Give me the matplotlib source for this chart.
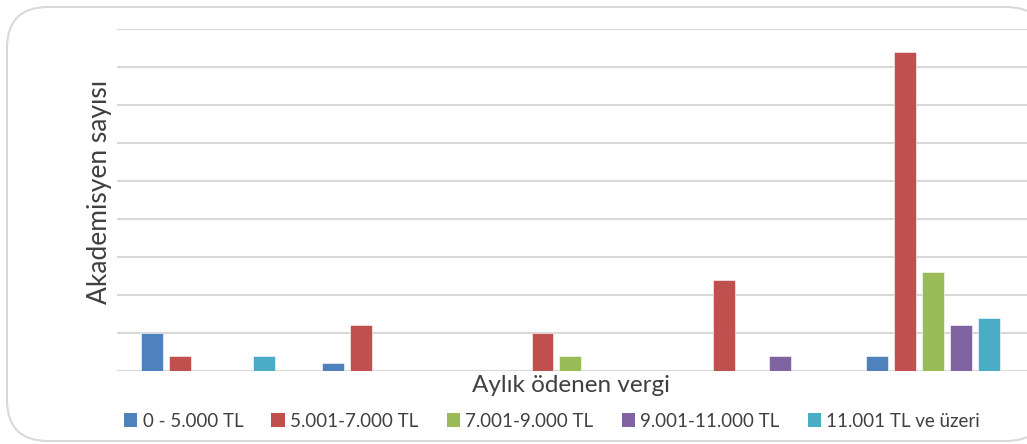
import numpy as np
import matplotlib.pyplot as plt
from matplotlib.patches import FancyBboxPatch, Patch

plt.rcParams['font.family'] = ['Lato', 'DejaVu Sans']

# vergi grupları (x ekseni kategorileri, etiket yok)
groups = ["G1", "G2", "G3", "G4", "G5"]
series = ["0 - 5.000 TL", "5.001-7.000 TL", "7.001-9.000 TL",
          "9.001-11.000 TL", "11.001 TL ve üzeri"]
s1 = [5, 1, 0, 0, 2]
s2 = [2, 6, 5, 12, 42]
s3 = [0, 0, 2, 0, 13]
s4 = [0, 0, 0, 2, 6]
s5 = [2, 0, 0, 0, 7]
values = [s1, s2, s3, s4, s5]
colors = ["#4F81BD", "#C0504D", "#9BBB59", "#8064A2", "#4BACC6"]

fig = plt.figure(figsize=(10.27, 4.44), dpi=100)
W, H = 1027, 444

# rounded chart frame (behind everything)
frame = FancyBboxPatch((7 / W, 3 / H), 1040 / W, 434 / H,
                       boxstyle="round,pad=0,rounding_size=0.04",
                       transform=fig.transFigure, facecolor="white",
                       edgecolor="#D9D9D9", linewidth=1.5,
                       mutation_aspect=W / H, zorder=-10)
fig.patches.append(frame)

ax = fig.add_axes([117 / W, (H - 371) / H, (1027 - 117) / W, (371 - 29) / H])
ax.set_facecolor("none")
ax.set_zorder(5)

x = np.arange(len(groups))
step = 0.154
width = 0.121
for i, (vals, c) in enumerate(zip(values, colors)):
    ax.bar(x + (i - 2) * step, vals, width=width, color=c,
           edgecolor="white", linewidth=0.4, zorder=3)

ax.set_xlim(-0.5, 4.517)
ax.set_ylim(0, 45)
ax.set_yticks(np.arange(0, 46, 5))
ax.yaxis.grid(True, color="#D9D9D9", linewidth=1.5, zorder=0)
ax.set_axisbelow(True)
ax.tick_params(left=False, bottom=False, labelleft=False, labelbottom=False)
for s in ax.spines.values():
    s.set_visible(False)

fig.text(100 / W, 1 - 192 / H, "Akademisyen sayısı", rotation=90,
         ha="center", va="center", fontsize=19, color="#404040")
fig.text(571 / W, 1 - 385 / H, "Aylık ödenen vergi",
         ha="center", va="center", fontsize=17.5, color="#404040")

handles = [Patch(facecolor=c, edgecolor="none") for c in colors]
fig.legend(handles, series, ncol=5, loc="center",
           bbox_to_anchor=(552 / W, 1 - 421 / H), frameon=False,
           fontsize=13.5, handlelength=0.7, handleheight=0.7,
           handletextpad=0.3, columnspacing=1.5, labelcolor="#404040")

plt.savefig("out.png", dpi=100)
